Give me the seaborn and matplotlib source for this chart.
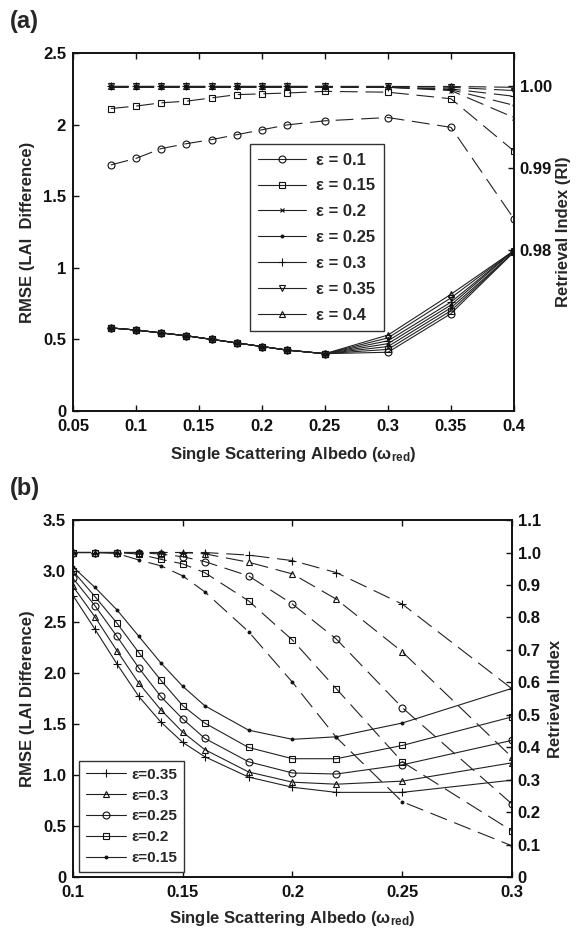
import matplotlib
matplotlib.use("Agg")
import matplotlib.pyplot as plt
import seaborn as sns
import numpy as np

# ---------------- data: panel (a) ----------------
x_a = [0.08, 0.1, 0.12, 0.14, 0.16, 0.18, 0.2, 0.22, 0.25, 0.3, 0.35, 0.4]
eps_a = ["0.1", "0.15", "0.2", "0.25", "0.3", "0.35", "0.4"]
rmse_a = {
    "0.1":  [0.58, 0.565, 0.545, 0.525, 0.50, 0.475, 0.45, 0.425, 0.40, 0.41, 0.68, 1.11],
    "0.15": [0.58, 0.565, 0.545, 0.525, 0.50, 0.475, 0.45, 0.425, 0.40, 0.43, 0.70, 1.11],
    "0.2":  [0.58, 0.565, 0.545, 0.525, 0.50, 0.475, 0.45, 0.425, 0.40, 0.45, 0.72, 1.11],
    "0.25": [0.58, 0.565, 0.545, 0.525, 0.50, 0.475, 0.45, 0.425, 0.40, 0.47, 0.74, 1.12],
    "0.3":  [0.58, 0.565, 0.545, 0.525, 0.50, 0.475, 0.45, 0.425, 0.40, 0.49, 0.76, 1.12],
    "0.35": [0.58, 0.565, 0.545, 0.525, 0.50, 0.475, 0.45, 0.425, 0.40, 0.51, 0.79, 1.12],
    "0.4":  [0.58, 0.565, 0.545, 0.525, 0.50, 0.475, 0.45, 0.425, 0.40, 0.53, 0.815, 1.12],
}
ri_a = {
    "0.1":  [0.9904, 0.9912, 0.9924, 0.9930, 0.9935, 0.9941, 0.9947, 0.9953, 0.9958, 0.9962, 0.9950, 0.9838],
    "0.15": [0.9973, 0.9976, 0.9980, 0.9982, 0.9986, 0.9990, 0.9991, 0.9992, 0.9994, 0.9993, 0.9985, 0.9921],
    "0.2":  [0.9999, 0.9999, 0.9999, 0.9999, 0.9999, 0.9999, 0.9999, 0.9999, 0.9999, 0.9999, 0.9995, 0.9962],
    "0.25": [0.9999, 0.9999, 0.9999, 0.9999, 0.9999, 0.9999, 0.9999, 0.9999, 0.9999, 0.9999, 0.9996, 0.9977],
    "0.3":  [1.0000, 1.0000, 1.0000, 1.0000, 1.0000, 1.0000, 1.0000, 1.0000, 1.0000, 0.9999, 0.9997, 0.9988],
    "0.35": [1.0000, 1.0000, 1.0000, 1.0000, 1.0000, 1.0000, 1.0000, 1.0000, 1.0000, 1.0000, 0.9999, 0.9995],
    "0.4":  [1.0000, 1.0000, 1.0000, 1.0000, 1.0000, 1.0000, 1.0000, 1.0000, 1.0000, 1.0000, 1.0000, 0.9999],
}
markers_a = {"0.1": "o", "0.15": "s", "0.2": "x", "0.25": ".", "0.3": "+", "0.35": "v", "0.4": "^"}

# ---------------- data: panel (b) ----------------
x_b = [0.1, 0.11, 0.12, 0.13, 0.14, 0.15, 0.16, 0.18, 0.2, 0.22, 0.25, 0.3]
eps_b = ["0.35", "0.3", "0.25", "0.2", "0.15"]
rmse_b = {
    "0.15": [3.04, 2.84, 2.62, 2.36, 2.10, 1.87, 1.68, 1.44, 1.35, 1.375, 1.51, 1.85],
    "0.2":  [3.00, 2.75, 2.49, 2.20, 1.93, 1.68, 1.51, 1.27, 1.16, 1.16, 1.29, 1.57],
    "0.25": [2.93, 2.66, 2.36, 2.05, 1.77, 1.55, 1.36, 1.13, 1.02, 1.01, 1.10, 1.34],
    "0.3":  [2.85, 2.55, 2.22, 1.90, 1.64, 1.42, 1.25, 1.03, 0.93, 0.91, 0.94, 1.12],
    "0.35": [2.76, 2.43, 2.09, 1.77, 1.52, 1.32, 1.18, 0.98, 0.88, 0.83, 0.83, 0.95],
}
ri_b = {
    "0.15": [1.0, 1.0, 0.997, 0.977, 0.959, 0.928, 0.879, 0.756, 0.600, 0.430, 0.232, 0.096],
    "0.2":  [1.0, 1.0, 1.0, 0.995, 0.979, 0.965, 0.938, 0.851, 0.730, 0.580, 0.355, 0.142],
    "0.25": [1.0, 1.0, 1.0, 1.0, 0.995, 0.987, 0.972, 0.928, 0.841, 0.733, 0.522, 0.225],
    "0.3":  [1.0, 1.0, 1.0, 1.0, 1.0, 1.0, 0.996, 0.970, 0.934, 0.856, 0.694, 0.369],
    "0.35": [1.0, 1.0, 1.0, 1.0, 1.0, 1.0, 1.0, 0.992, 0.975, 0.938, 0.841, 0.580],
}
markers_b = {"0.35": "+", "0.3": "^", "0.25": "o", "0.2": "s", "0.15": "."}

xticks_a = [0.05, 0.1, 0.15, 0.2, 0.25, 0.3, 0.35, 0.4]
xticklabels_a = ["0.05", "0.1", "0.15", "0.2", "0.25", "0.3", "0.35", "0.4"]
yticks_a = [0, 0.5, 1.0, 1.5, 2.0, 2.5]
yticklabels_a = ["0", "0.5", "1", "1.5", "2", "2.5"]
rticks_a = [0.98, 0.99, 1.00]
rticklabels_a = ["0.98", "0.99", "1.00"]
xticks_b = [0.1, 0.15, 0.2, 0.25, 0.3]
xticklabels_b = ["0.1", "0.15", "0.2", "0.25", "0.3"]
yticks_b = [0, 0.5, 1.0, 1.5, 2.0, 2.5, 3.0, 3.5]
yticklabels_b = ["0", "0.5", "1.0", "1.5", "2.0", "2.5", "3.0", "3.5"]
rticks_b = [0, 0.1, 0.2, 0.3, 0.4, 0.5, 0.6, 0.7, 0.8, 0.9, 1.0, 1.1]
rticklabels_b = ["0", "0.1", "0.2", "0.3", "0.4", "0.5", "0.6", "0.7", "0.8", "0.9", "1.0", "1.1"]

# ---------------- style ----------------
sns.set_theme(style="white")
plt.rcParams["font.family"] = ["Liberation Sans", "DejaVu Sans"]
plt.rcParams["font.weight"] = "bold"
plt.rcParams["axes.labelweight"] = "bold"
plt.rcParams["mathtext.fontset"] = "custom"
plt.rcParams["mathtext.rm"] = "Liberation Sans:bold"
plt.rcParams["mathtext.it"] = "Liberation Sans:bold"
plt.rcParams["axes.edgecolor"] = "#111111"
plt.rcParams["axes.linewidth"] = 1.2

LINE = "#222222"
LW = 0.8
DASH = (0, (16, 7))
FS = 12

fig = plt.figure(figsize=(5.76, 9.34), dpi=100)
ax_a = fig.add_axes([0.1267, 0.5600, 0.7656, 0.3833])
ax_b = fig.add_axes([0.1267, 0.0610, 0.7622, 0.3822])
ax_a2 = ax_a.twinx()
ax_b2 = ax_b.twinx()


def mk_kw(m):
    kw = dict(marker=m, color=LINE, linewidth=LW, markeredgecolor="#111111",
              markeredgewidth=0.8)
    if m == ".":
        kw["markersize"] = 4
        kw["markerfacecolor"] = "#111111"
    elif m == "x":
        kw["markersize"] = 3.5
    elif m == "+":
        kw["markersize"] = 6
    else:
        kw["markersize"] = 5
        kw["markerfacecolor"] = "none"
    return kw


# panel (a)
handles_a = []
for e in eps_a:
    kw = mk_kw(markers_a[e])
    sns.lineplot(x=x_a, y=rmse_a[e], ax=ax_a, legend=False, linestyle="-", **kw)
    handles_a.append(ax_a.get_lines()[-1])
    sns.lineplot(x=x_a, y=ri_a[e], ax=ax_a2, legend=False, linestyle=DASH, **kw)

# panel (b)
handles_b = []
for e in eps_b:
    kw = mk_kw(markers_b[e])
    sns.lineplot(x=x_b, y=rmse_b[e], ax=ax_b, legend=False, linestyle="-", **kw)
    handles_b.append(ax_b.get_lines()[-1])
    sns.lineplot(x=x_b, y=ri_b[e], ax=ax_b2, legend=False, linestyle=DASH, **kw)

# axes (a)
ax_a.set_xlim(0.05, 0.4)
ax_a.set_ylim(0, 2.5)
ax_a2.set_ylim(0.9603, 1.0041)
ax_a.set_xticks(xticks_a)
ax_a.set_xticklabels(xticklabels_a, fontsize=FS, fontweight="bold")
ax_a.set_yticks(yticks_a)
ax_a.set_yticklabels(yticklabels_a, fontsize=FS, fontweight="bold")
ax_a2.set_yticks(rticks_a)
ax_a2.set_yticklabels(rticklabels_a, fontsize=FS, fontweight="bold")
ax_a.set_xlabel("Single Scattering Albedo (ω$_{\\mathrm{red}}$)", fontsize=FS,
                fontweight="bold", labelpad=8)
ax_a.set_ylabel("RMSE (LAI  Difference)", fontsize=FS, fontweight="bold", labelpad=6)
ax_a2.set_ylabel("Retrieval Index (RI)", fontsize=FS, fontweight="bold", labelpad=3)

# axes (b)
ax_b.set_xlim(0.1, 0.3)
ax_b.set_ylim(0, 3.5)
ax_b2.set_ylim(0, 1.1)
ax_b.set_xticks(xticks_b)
ax_b.set_xticklabels(xticklabels_b, fontsize=FS, fontweight="bold")
ax_b.set_yticks(yticks_b)
ax_b.set_yticklabels(yticklabels_b, fontsize=FS, fontweight="bold")
ax_b2.set_yticks(rticks_b)
ax_b2.set_yticklabels(rticklabels_b, fontsize=FS, fontweight="bold")
ax_b.set_xlabel("Single Scattering Albedo (ω$_{\\mathrm{red}}$)", fontsize=FS,
                fontweight="bold", labelpad=6)
ax_b.set_ylabel("RMSE (LAI Difference)", fontsize=FS, fontweight="bold", labelpad=6)
ax_b2.set_ylabel("Retrieval Index", fontsize=FS, fontweight="bold", labelpad=5)

for ax in (ax_a, ax_b):
    ax.tick_params(axis="x", direction="in", top=True, bottom=True, length=4,
                   width=1, pad=6, colors="#111111")
    ax.tick_params(axis="y", direction="in", left=True, right=False, length=4,
                   width=1, pad=5, colors="#111111")
for ax in (ax_a2, ax_b2):
    ax.tick_params(axis="y", direction="in", right=True, left=False, length=4,
                   width=1, pad=4, colors="#111111")
    ax.set_xlabel("")
for ax in (ax_a, ax_b, ax_a2, ax_b2):
    for s in ax.spines.values():
        s.set_linewidth(1.2)
        s.set_color("#111111")
    ax.grid(False)

# legends
leg_a = ax_a2.legend(handles_a, [f"ε = {e}" for e in eps_a], loc="upper left",
                     bbox_to_anchor=(0.401, 0.745), frameon=True, fancybox=False,
                     edgecolor="#333333", framealpha=1,
                     prop={"weight": "bold", "size": FS},
                     handlelength=2.9, labelspacing=0.65, borderpad=0.5,
                     handletextpad=0.6, borderaxespad=0)
leg_a.get_frame().set_linewidth(1.0)
leg_b = ax_b2.legend(handles_b, [f"ε={e}" for e in eps_b], loc="lower left",
                     bbox_to_anchor=(0.014, 0.014), frameon=True, fancybox=False,
                     edgecolor="#333333", framealpha=1,
                     prop={"weight": "bold", "size": 11},
                     handlelength=2.6, labelspacing=0.45, borderpad=0.45,
                     handletextpad=0.35, borderaxespad=0)
leg_b.get_frame().set_linewidth(1.0)

fig.text(0.017, 0.977, "(a)", fontsize=17, fontweight="bold", va="center", ha="left")
fig.text(0.017, 0.477, "(b)", fontsize=17, fontweight="bold", va="center", ha="left")

fig.savefig("out.png", dpi=100)
